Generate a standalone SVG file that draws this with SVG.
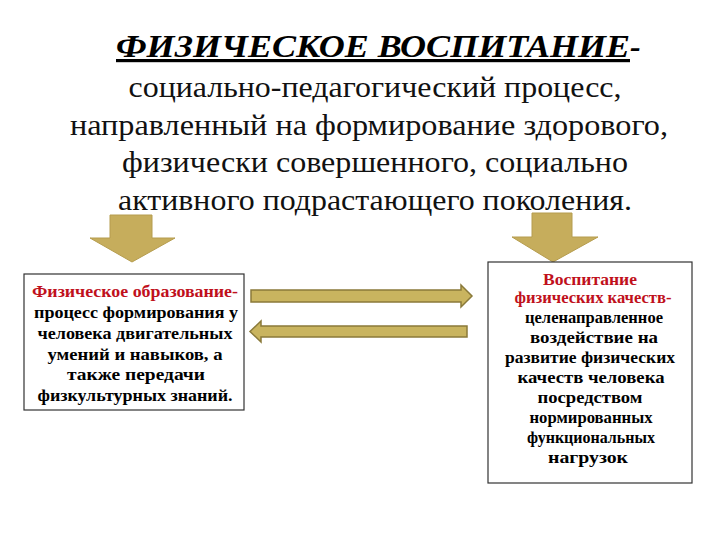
<svg xmlns="http://www.w3.org/2000/svg" width="720" height="540" viewBox="0 0 720 540">
<style>
.title{font-family:'Liberation Serif','Times New Roman',serif;font-weight:bold;font-style:italic;font-size:32px;fill:#000}
.body{font-family:'Liberation Serif','Times New Roman',serif;font-size:30px;fill:#111;text-anchor:middle}
.bx{font-family:'Liberation Serif','Times New Roman',serif;font-weight:bold;font-size:16px;fill:#000;text-anchor:middle}
.red{fill:#C0101C}
.box{fill:#fff;stroke:#333;stroke-width:1.2}
.down{fill:#C6AD5C;stroke:#B59C4E;stroke-width:1}
.harr{fill:#C9B45F;stroke:#8A7A3A;stroke-width:1.5}
</style>
<rect width="720" height="540" fill="#fff"/>
<g id="title">
<text class="title" x="116" y="57" textLength="514" lengthAdjust="spacingAndGlyphs" text-decoration="underline">ФИЗИЧЕСКОЕ ВОСПИТАНИЕ</text>
<text class="title" x="630" y="57">-</text>
<text class="body" x="375" y="97" textLength="493" lengthAdjust="spacingAndGlyphs">социально-педагогический процесс,</text>
<text class="body" x="369" y="135" textLength="598" lengthAdjust="spacingAndGlyphs">направленный на формирование здорового,</text>
<text class="body" x="375" y="172" textLength="506" lengthAdjust="spacingAndGlyphs">физически совершенного, социально</text>
<text class="body" x="375" y="210" textLength="514" lengthAdjust="spacingAndGlyphs">активного подрастающего поколения.</text>
</g>
<g id="arrow-left-down">
<polygon class="down" points="110,215 152,215 152,238 175,238 132,262 90,238 110,238"/>
</g>
<g id="arrow-right-down">
<polygon class="down" points="532,213 572,213 572,237 598,237 553,262 512,237 532,237"/>
</g>
<g id="node-left">
<rect class="box" x="24" y="274" width="220" height="136"/>
<text class="bx red" x="135" y="297" textLength="206" lengthAdjust="spacingAndGlyphs">Физическое образование-</text>
<text class="bx" x="136" y="318" textLength="204" lengthAdjust="spacingAndGlyphs">процесс формирования у</text>
<text class="bx" x="135" y="339" textLength="195" lengthAdjust="spacingAndGlyphs">человека двигательных</text>
<text class="bx" x="135" y="360" textLength="175" lengthAdjust="spacingAndGlyphs">умений и навыков, а</text>
<text class="bx" x="136" y="380" textLength="138" lengthAdjust="spacingAndGlyphs">также передачи</text>
<text class="bx" x="135" y="401" textLength="195" lengthAdjust="spacingAndGlyphs">физкультурных знаний.</text>
</g>
<g id="node-right">
<rect class="box" x="488" y="262" width="204" height="221"/>
<text class="bx red" x="590" y="285" textLength="94" lengthAdjust="spacingAndGlyphs">Воспитание</text>
<text class="bx red" x="593" y="303" textLength="157" lengthAdjust="spacingAndGlyphs">физических качеств-</text>
<text class="bx" x="594" y="323" textLength="138" lengthAdjust="spacingAndGlyphs">целенаправленное</text>
<text class="bx" x="594" y="343" textLength="128" lengthAdjust="spacingAndGlyphs">воздействие на</text>
<text class="bx" x="590" y="363" textLength="170" lengthAdjust="spacingAndGlyphs">развитие физических</text>
<text class="bx" x="591" y="383" textLength="147" lengthAdjust="spacingAndGlyphs">качеств человека</text>
<text class="bx" x="590" y="403" textLength="105" lengthAdjust="spacingAndGlyphs">посредством</text>
<text class="bx" x="591" y="423" textLength="123" lengthAdjust="spacingAndGlyphs">нормированных</text>
<text class="bx" x="591" y="443" textLength="128" lengthAdjust="spacingAndGlyphs">функциональных</text>
<text class="bx" x="588" y="463" textLength="80" lengthAdjust="spacingAndGlyphs">нагрузок</text>
</g>
<g id="connectors">
<polygon class="harr" points="251,290 461,290 461,285 472,296 461,307 461,302 251,302"/>
<polygon class="harr" points="467,326 261,326 261,321 250,331.5 261,342 261,337 467,337"/>
</g>
</svg>
